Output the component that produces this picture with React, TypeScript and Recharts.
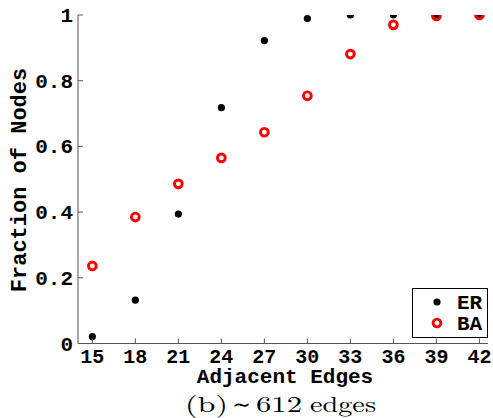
import React from "react";
import { ScatterChart, Scatter, XAxis, YAxis, Customized } from "recharts";

const edges = [15, 18, 21, 24, 27, 30, 33, 36, 39, 42];
const erValues = [0.021, 0.132, 0.394, 0.718, 0.922, 0.989, 1.0, 1.0, 1.0, 1.0];
const baValues = [0.236, 0.385, 0.486, 0.565, 0.643, 0.754, 0.881, 0.97, 0.997, 1.0];
const xTicks = [15, 18, 21, 24, 27, 30, 33, 36, 39, 42];
const yTicks = [0, 0.2, 0.4, 0.6, 0.8, 1];
const yTickLabels = ["0", "0.2", "0.4", "0.6", "0.8", "1"];
const seriesNames = ["ER", "BA"];

const erData = edges.map((x, i) => ({ x, y: erValues[i] }));
const baData = edges.map((x, i) => ({ x, y: baValues[i] }));

const MONO = "'Courier New', 'Nimbus Mono PS', 'Nimbus Mono L', FreeMono, 'Liberation Mono', monospace";
const SERIF = "'Latin Modern Roman', 'CMU Serif', 'Liberation Serif', 'DejaVu Serif', serif";
const AXIS_COLOR = "#555";

const XTick = (props: any) => {
  const { x, y, payload } = props;
  return (
    <g>
      <line x1={x} x2={x} y1={y} y2={y - 5} stroke={AXIS_COLOR} strokeWidth={1} />
      <text x={x} y={y + 19.5} textAnchor="middle" fontFamily={MONO} fontWeight="bold" fontSize={20} fill="#000">
        {payload.value}
      </text>
    </g>
  );
};

const YTick = (props: any) => {
  const { x, y, payload } = props;
  const ax = x + 6;
  const idx = yTicks.indexOf(payload.value);
  return (
    <g>
      <line x1={ax} x2={ax + 5} y1={y} y2={y} stroke={AXIS_COLOR} strokeWidth={1} />
      <text x={x + 1} y={y + 7} textAnchor="end" fontFamily={MONO} fontWeight="bold" fontSize={21} fill="#000">
        {idx >= 0 ? yTickLabels[idx] : payload.value}
      </text>
    </g>
  );
};

const ErShape = (props: any) => <circle cx={props.cx} cy={props.cy} r={3.6} fill="#000" />;
const BaShape = (props: any) => (
  <circle cx={props.cx} cy={props.cy} r={3.9} fill="none" stroke="#ff0000" strokeWidth={2.9} />
);

const LegendBox = () => (
  <g transform="translate(412,288)">
    <rect x={0.5} y={0.5} width={75} height={49} fill="#fff" stroke="#000" strokeWidth={1} />
    <circle cx={25} cy={14} r={3.6} fill="#000" />
    <text x={45} y={21} fontFamily={MONO} fontWeight="bold" fontSize={21} fill="#000">{seriesNames[0]}</text>
    <circle cx={25} cy={35} r={3.9} fill="none" stroke="#ff0000" strokeWidth={2.9} />
    <text x={45} y={42} fontFamily={MONO} fontWeight="bold" fontSize={21} fill="#000">{seriesNames[1]}</text>
  </g>
);

const captionParts = [
  { t: "(b)", x: 185, w: 43 },
  { t: "∼", x: 232, w: 19 },
  { t: "612", x: 256, w: 46 },
  { t: "edges", x: 310, w: 66 },
];

const Labels = () => (
  <g>
    <text x={285} y={383} textAnchor="middle" fontFamily={MONO} fontWeight="bold" fontSize={21} fill="#000">
      Adjacent Edges
    </text>
    <text
      x={20}
      y={180}
      textAnchor="middle"
      dominantBaseline="central"
      transform="rotate(-90 20 180)"
      fontFamily={MONO}
      fontWeight="bold"
      fontSize={22}
      fill="#000"
    >
      Fraction of Nodes
    </text>
    {captionParts.map((p) => (
      <text
        key={p.t}
        x={p.x}
        y={411.5}
        fontFamily={SERIF}
        fontSize={22}
        fill="#000"
        textLength={p.w}
        lengthAdjust="spacingAndGlyphs"
      >
        {p.t}
      </text>
    ))}
  </g>
);

export default function App() {
  return (
    <div style={{ position: "absolute", left: 0, top: 0, width: 493, height: 418, background: "#fff" }}>
      <ScatterChart width={493} height={418} margin={{ top: 15, right: 5, bottom: 0, left: 18 }}>
        <XAxis
          type="number"
          dataKey="x"
          domain={[14, 42.6]}
          ticks={xTicks}
          allowDataOverflow
          tickSize={0}
          tickMargin={0}
          tick={<XTick />}
          axisLine={{ stroke: AXIS_COLOR }}
          height={74.5}
        />
        <YAxis
          type="number"
          dataKey="y"
          domain={[0, 1]}
          ticks={yTicks}
          allowDataOverflow
          tickSize={0}
          tickMargin={6}
          tick={<YTick />}
          axisLine={{ stroke: AXIS_COLOR }}
          width={60}
        />
        <Scatter name="ER" data={erData} fill="#000" shape={<ErShape />} isAnimationActive={false} />
        <Scatter name="BA" data={baData} fill="#ff0000" shape={<BaShape />} isAnimationActive={false} />
        <Customized component={<LegendBox />} />
        <Customized component={<Labels />} />
      </ScatterChart>
    </div>
  );
}
